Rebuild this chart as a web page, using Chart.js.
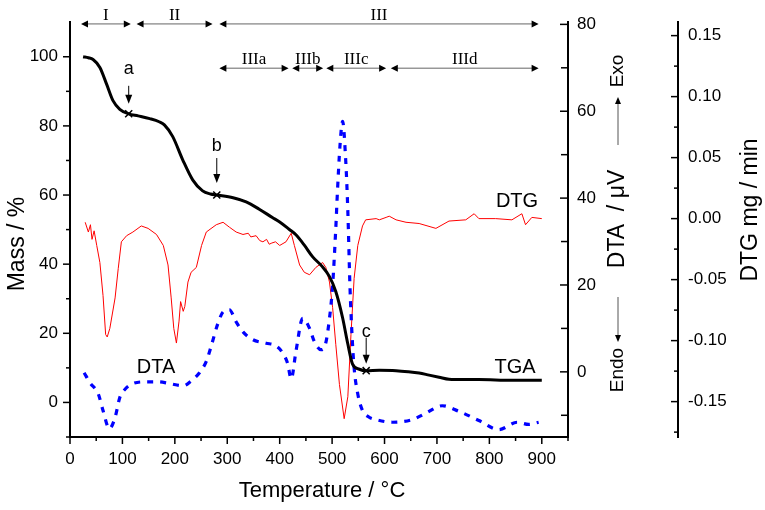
<!DOCTYPE html>
<html>
<head>
<meta charset="utf-8">
<script src="https://cdn.jsdelivr.net/npm/chart.js@4.4.1/dist/chart.umd.min.js"></script>
<style>
html, body { margin: 0; padding: 0; background: #fff; }
#wrap { width: 765px; height: 510px; }
</style>
</head>
<body>
<div id="wrap"><canvas id="c" width="765" height="510"></canvas></div>
<script>
// TGA / DTA / DTG thermogram, three y axes

const FONT = "'Liberation Sans', Arial, sans-serif";
const SERIF = "'Liberation Serif', 'Times New Roman', serif";

// tick values
const tempTicks = [0, 100, 200, 300, 400, 500, 600, 700, 800, 900];
const tempMinor = [50, 150, 250, 350, 450, 550, 650, 750, 850, 950];
const massTicks = [0, 20, 40, 60, 80, 100];
const massMinor = [-10, 10, 30, 50, 70, 90];
const dtaTicks = [0, 20, 40, 60, 80];
const dtaMinor = [-10, 10, 30, 50, 70];
const dtgTicks = [-0.15, -0.10, -0.05, 0.00, 0.05, 0.10, 0.15];
const dtgMinor = [-0.175, -0.125, -0.075, -0.025, 0.025, 0.075, 0.125];

// TGA: mass / %
const tgaT = [25, 35, 44, 57, 70, 82, 95, 112, 130, 152, 170, 180, 196, 215, 234, 253, 268, 280,
    311, 336, 361, 386, 400, 418, 431, 447, 463, 480, 495, 507, 520, 530, 539, 552, 565, 590, 622,
    645, 666, 685, 704, 723, 750, 780, 843, 900];
const tgaMass = [100, 99.7, 99.2, 96.9, 92, 87.3, 84.8, 83.5, 82.9, 82.1, 81.2, 80.3, 76.9, 70.2, 64.4, 61.2, 60.3, 60,
    59.2, 58.0, 55.9, 53.5, 52.2, 50.1, 48.5, 45.5, 42.1, 39.5, 36.4, 32.1, 24.5, 16.9, 11.1, 9.6, 9.2, 9.3, 9.2,
    8.9, 8.5, 7.9, 7.3, 6.7, 6.6, 6.6, 6.4, 6.4];

// DTA: µV
const dtaT = [27, 38, 54, 63, 75, 86, 95, 105, 120, 146, 168, 190, 216, 231, 247, 260, 270, 282, 292, 304,
    317, 330, 349, 374, 393, 406, 415, 422, 431, 444, 457, 466, 479, 487, 495, 501, 507, 510, 515, 520,
    526, 530, 534, 538, 542, 549, 558, 570, 584, 615, 653, 679, 710, 742, 780, 818, 853, 875, 894];
const dtaVal = [-0.2, -2.5, -5.1, -8.9, -13.1, -10.5, -5.9, -4, -2.7, -2.3, -2.3, -2.7, -3.2, -2.1, -0.2, 2.4, 6.2, 11.1, 13.8, 14.3,
    11.5, 9.2, 7.4, 6.6, 6.0, 4.3, 2.0, -1.6, 4.7, 12.3, 10, 7, 5.1, 6.2, 12.3, 19.9, 33, 41, 52, 57.7,
    48.6, 37, 19.9, 8.5, 0.9, -5.1, -8.9, -10.4, -11, -11.6, -11, -9.5, -7.8, -9.1, -11.2, -13.3, -11.6, -12.1, -11.6];

// DTG: mg / min
const dtgT = [29, 35, 39, 42, 46, 51, 57, 63, 68, 71, 76, 86, 92, 98, 108, 120, 136, 149, 165, 178,
    187, 193, 198, 203, 208, 211, 216, 219, 225, 231, 241, 251, 260, 279, 292, 304, 317, 330, 340, 345,
    355, 362, 368, 375, 380, 385, 392, 400, 412, 422, 428, 438, 447, 457, 469, 482, 488, 495, 501, 507,
    514, 523, 530, 536, 542, 549, 558, 564, 584, 590, 603, 609, 622, 641, 666, 698, 723, 755, 771, 780,
    812, 843, 862, 869, 881, 900];
const dtgVal = [-0.003, -0.011, -0.005, -0.017, -0.010, -0.022, -0.036, -0.063, -0.095, -0.097, -0.090, -0.065, -0.041, -0.019, -0.014, -0.011, -0.006, -0.008, -0.013, -0.022,
    -0.038, -0.065, -0.090, -0.102, -0.084, -0.068, -0.076, -0.072, -0.052, -0.044, -0.040, -0.022, -0.011, -0.005, -0.003, -0.007, -0.011, -0.013, -0.012, -0.015,
    -0.014, -0.018, -0.019, -0.017, -0.021, -0.020, -0.019, -0.022, -0.019, -0.012, -0.022, -0.038, -0.044, -0.046, -0.040, -0.036, -0.040, -0.052, -0.073, -0.103,
    -0.136, -0.164, -0.146, -0.095, -0.049, -0.022, -0.006, -0.001, 0.000, -0.001, 0.001, 0.002, -0.001, -0.003, -0.004, -0.008, -0.002, -0.001, 0.004, 0.000,
    0.000, -0.001, 0.004, -0.005, 0.001, 0.000];

// marked points on the TGA curve
const markLabels = ["a", "b", "c"];
const markT = [112, 280, 565];
const markMass = [83.5, 60, 9.2];

// decomposition stages (°C)
const stageLabels = ["I", "II", "III", "IIIa", "IIIb", "IIIc", "IIId"];
const stageFrom = [21, 127, 285, 285, 424, 489, 612];
const stageTo = [116, 272, 894, 417, 483, 603, 894];
const stageRow = [1, 1, 1, 2, 2, 2, 2];

function pts(xs, ys) {
    return xs.map((x, i) => ({ x, y: ys[i] }));
}

function arrowHead(ctx, x, y, dir, len = 7, half = 3.5) {
    ctx.beginPath();
    if (dir === "left") { ctx.moveTo(x, y); ctx.lineTo(x + len, y - half); ctx.lineTo(x + len, y + half); }
    if (dir === "right") { ctx.moveTo(x, y); ctx.lineTo(x - len, y - half); ctx.lineTo(x - len, y + half); }
    if (dir === "up") { ctx.moveTo(x, y); ctx.lineTo(x - half, y + len); ctx.lineTo(x + half, y + len); }
    if (dir === "down") { ctx.moveTo(x, y); ctx.lineTo(x - half, y - len); ctx.lineTo(x + half, y - len); }
    ctx.closePath();
    ctx.fill();
}

function vText(ctx, txt, x, y, font) {
    ctx.save();
    ctx.translate(x, y);
    ctx.rotate(-Math.PI / 2);
    ctx.font = font;
    ctx.textAlign = "center";
    ctx.textBaseline = "middle";
    ctx.fillText(txt, 0, 0);
    ctx.restore();
}

const tickPlugin = {
    id: "tickMarks",
    afterDraw(chart) {
        const { ctx, chartArea: ca, scales } = chart;
        ctx.save();
        ctx.strokeStyle = "#000";
        ctx.lineWidth = 1.5;
        const hTicks = (vals, len) => vals.forEach(v => {
            const px = scales.x.getPixelForValue(v);
            ctx.beginPath(); ctx.moveTo(px, ca.bottom); ctx.lineTo(px, ca.bottom + len); ctx.stroke();
        });
        const vTicks = (sc, x0, vals, len) => vals.forEach(v => {
            const py = sc.getPixelForValue(v);
            ctx.beginPath(); ctx.moveTo(x0, py); ctx.lineTo(x0 - len, py); ctx.stroke();
        });
        hTicks(tempTicks, 7);
        hTicks(tempMinor, 4);
        vTicks(scales.y, ca.left, massTicks, 7);
        vTicks(scales.y, ca.left, massMinor, 4);
        vTicks(scales.yDta, scales.yDta.left, dtaTicks, 8);
        vTicks(scales.yDta, scales.yDta.left, dtaMinor, 7);
        vTicks(scales.yDtg, scales.yDtg.left, dtgTicks, 7);
        vTicks(scales.yDtg, scales.yDtg.left, dtgMinor, 4);
        ctx.restore();
    }
};

const notesPlugin = {
    id: "notes",
    afterDraw(chart) {
        const { ctx, scales } = chart;
        const x = scales.x, y = scales.y;
        ctx.save();
        ctx.fillStyle = "#000";

        // stage arrows
        const rowMass = { 1: 109.5, 2: 96.7 };
        stageLabels.forEach((lab, i) => {
            const x1 = x.getPixelForValue(stageFrom[i]);
            const x2 = x.getPixelForValue(stageTo[i]);
            const py = y.getPixelForValue(rowMass[stageRow[i]]);
            ctx.strokeStyle = "#666";
            ctx.lineWidth = 1;
            ctx.beginPath(); ctx.moveTo(x1 + 3, py); ctx.lineTo(x2 - 3, py); ctx.stroke();
            ctx.fillStyle = "#000";
            arrowHead(ctx, x1, py, "left", 7, 3.5);
            arrowHead(ctx, x2, py, "right", 7, 3.5);
            ctx.font = "17px " + SERIF;
            ctx.textAlign = "center";
            ctx.textBaseline = "alphabetic";
            ctx.fillText(lab, (x1 + x2) / 2, py - 4);
        });

        // a, b, c markers
        const offs = [[-45, -28, -10], [-49, -37, -12], [-39, -33, -7]];
        markLabels.forEach((lab, i) => {
            const px = x.getPixelForValue(markT[i]);
            const py = y.getPixelForValue(markMass[i]);
            const [tOff, l0, l1] = offs[i];
            ctx.strokeStyle = "#000";
            ctx.lineWidth = 1;
            ctx.beginPath(); ctx.moveTo(px, py + l0); ctx.lineTo(px, py + l1 - 4); ctx.stroke();
            arrowHead(ctx, px, py + l1, "down", 9, 3.5);
            ctx.font = "18px " + FONT;
            ctx.textAlign = "center";
            ctx.textBaseline = "middle";
            ctx.fillText(lab, px, py + tOff);
        });

        // curve names
        ctx.font = "20px " + FONT;
        ctx.textAlign = "center";
        ctx.textBaseline = "alphabetic";
        ctx.fillText("DTG", 517, 207);
        ctx.fillText("TGA", 515, 373);
        ctx.fillText("DTA", 156, 373);

        // axis titles
        ctx.font = "22px " + FONT;
        ctx.textBaseline = "middle";
        ctx.fillText("Temperature / °C", 322, 491);
        vText(ctx, "Mass / %", 18, 244, "23px " + FONT);
        vText(ctx, "DTA  / \u03bcV", 618, 219, "23px " + FONT);
        vText(ctx, "DTG mg / min", 751, 210, "23px " + FONT);
        vText(ctx, "Exo", 618, 71, "19px " + FONT);
        vText(ctx, "Endo", 618, 370, "19px " + FONT);

        // exo / endo arrows
        ctx.strokeStyle = "#555";
        ctx.lineWidth = 1;
        ctx.beginPath(); ctx.moveTo(618, 145); ctx.lineTo(618, 103); ctx.stroke();
        arrowHead(ctx, 618, 97, "up", 7, 3);
        ctx.beginPath(); ctx.moveTo(618, 297); ctx.lineTo(618, 336); ctx.stroke();
        arrowHead(ctx, 618, 342, "down", 7, 3);

        ctx.restore();
    }
};

function axisOpts(pos, min, max, ticks, width, pad, fmt) {
    return {
        type: "linear",
        position: pos,
        min, max,
        afterBuildTicks: s => { s.ticks = ticks.map(v => ({ value: v })); },
        afterFit: s => { s.width = width; },
        grid: { display: false, drawTicks: false },
        border: { display: true, color: "#000", width: 2 },
        ticks: {
            color: "#000",
            padding: pad,
            font: { size: 17, family: FONT },
            callback: fmt || (v => String(v))
        }
    };
}

const yDta = axisOpts("right", -15, 80.5, dtaTicks, 110, 9);
yDta.weight = 1;
const yDtg = axisOpts("right", -0.179, 0.161, dtgTicks, 87, 10, v => v.toFixed(2));
yDtg.weight = 2;

new Chart(document.getElementById("c"), {
    type: "line",
    data: {
        datasets: [
            {
                label: "marks",
                data: pts(markT, markMass),
                yAxisID: "y",
                showLine: false,
                pointStyle: "crossRot",
                pointRadius: 5,
                borderColor: "#000",
                borderWidth: 1.5,
                order: 0
            },
            {
                label: "TGA",
                data: pts(tgaT, tgaMass),
                yAxisID: "y",
                borderColor: "#000",
                borderWidth: 3,
                pointRadius: 0,
                cubicInterpolationMode: "monotone",
                order: 1
            },
            {
                label: "DTA",
                data: pts(dtaT, dtaVal),
                yAxisID: "yDta",
                borderColor: "#0000ff",
                borderWidth: 3.2,
                borderDash: [6, 7],
                pointRadius: 0,
                cubicInterpolationMode: "monotone",
                order: 2
            },
            {
                label: "DTG",
                data: pts(dtgT, dtgVal),
                yAxisID: "yDtg",
                borderColor: "#ff0000",
                borderWidth: 1,
                pointRadius: 0,
                tension: 0,
                order: 3
            }
        ]
    },
    options: {
        responsive: false,
        animation: false,
        devicePixelRatio: 1,
        layout: { padding: { top: 17, left: 0, right: 0, bottom: 0 } },
        plugins: { legend: { display: false }, tooltip: { enabled: false } },
        scales: {
            x: {
                type: "linear",
                position: "bottom",
                min: 0, max: 950,
                afterBuildTicks: s => { s.ticks = tempTicks.map(v => ({ value: v })); },
                afterFit: s => { s.height = 73; },
                grid: { display: false, drawTicks: false },
                border: { display: true, color: "#000", width: 2 },
                ticks: { color: "#000", padding: 12, maxRotation: 0, font: { size: 17, family: FONT } }
            },
            y: axisOpts("left", -10, 110, massTicks, 70, 12),
            yDta,
            yDtg
        }
    },
    plugins: [tickPlugin, notesPlugin]
});
</script>
</body>
</html>
